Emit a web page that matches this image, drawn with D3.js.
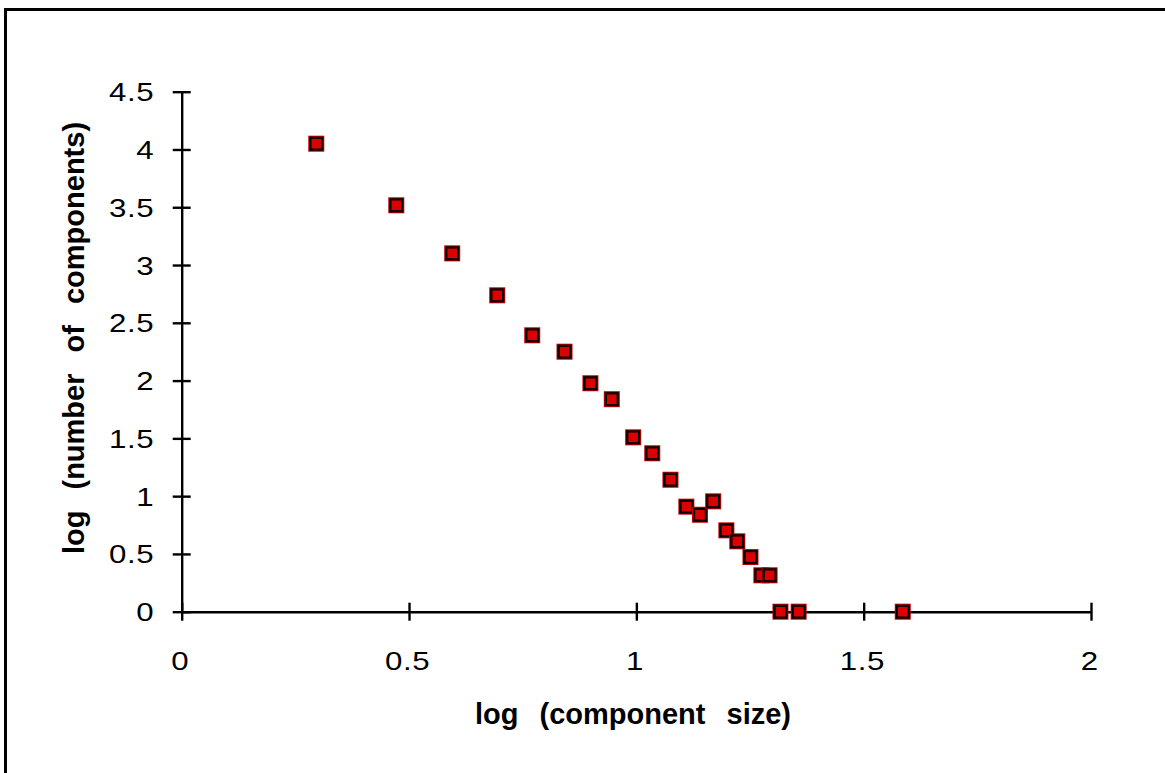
<!DOCTYPE html>
<html>
<head>
<meta charset="utf-8">
<script src="https://cdn.jsdelivr.net/npm/d3@7"></script>
<style>
  body { margin: 0; background: #fff; }
  svg { display: block; }
</style>
</head>
<body>
<svg id="chart" width="1165" height="773"></svg>
<script>
// values
var logSize = [0.296, 0.472, 0.595, 0.694, 0.771, 0.842, 0.899, 0.946, 0.993, 1.035, 1.075,
               1.110, 1.140, 1.169, 1.198, 1.222, 1.251, 1.275, 1.293, 1.317, 1.357, 1.586];
var logCount = [4.05, 3.517, 3.101, 2.738, 2.392, 2.25, 1.977, 1.839, 1.509, 1.371, 1.142,
                0.909, 0.839, 0.955, 0.704, 0.609, 0.473, 0.315, 0.315, 0, 0, 0];
var xTicks = [0, 0.5, 1, 1.5, 2];
var yTicks = [0, 0.5, 1, 1.5, 2, 2.5, 3, 3.5, 4, 4.5];

var svg = d3.select('#chart');

// outer frame (runs off the right and bottom edges)
svg.append('path')
  .attr('d', 'M5.5,780V9.5H1170')
  .style('fill', 'none')
  .style('stroke', '#000')
  .style('stroke-width', 3);

var x = d3.scaleLinear().domain([0, 2]).range([181.7, 1091]);
var y = d3.scaleLinear().domain([0, 4.5]).range([611.7, 91.7]);

var tickFont = '"Liberation Sans", Arial, sans-serif';
var stretch = 1.25; // tick digits are drawn wide in the original

// y axis
var gy = svg.append('g')
  .attr('transform', 'translate(' + x(0) + ',0)')
  .call(d3.axisLeft(y).tickValues(yTicks).tickFormat(d3.format('')).tickSize(9).tickSizeOuter(0));
gy.selectAll('.tick line').attr('x1', -9).attr('x2', 9);
gy.selectAll('.tick text')
  .attr('x', -27.5 / stretch)
  .attr('dy', '0.36em')
  .attr('transform', 'scale(' + stretch + ',1)')
  .style('font-family', tickFont)
  .style('font-size', '25px')
  .style('letter-spacing', '0.5px')
  .style('fill', '#000');

// x axis
var gx = svg.append('g')
  .attr('transform', 'translate(0,' + y(0) + ')')
  .call(d3.axisBottom(x).tickValues(xTicks).tickFormat(d3.format('')).tickSize(9).tickSizeOuter(0));
gx.selectAll('.tick line').attr('y1', -9).attr('y2', 9);
gx.selectAll('.tick text')
  .attr('y', 58)
  .attr('dy', 0)
  .attr('x', -1.5)
  .attr('transform', 'scale(' + stretch + ',1)')
  .style('font-family', tickFont)
  .style('font-size', '25px')
  .style('letter-spacing', '0.5px')
  .style('fill', '#000');

svg.selectAll('.domain, .tick line')
  .style('stroke', '#000')
  .style('stroke-width', 2.4);

// axis titles
svg.append('text')
  .attr('x', 633)
  .attr('y', 724)
  .attr('text-anchor', 'middle')
  .style('font-family', '"Liberation Sans", Arial, sans-serif')
  .style('font-weight', 'bold')
  .style('font-size', '29px')
  .style('word-spacing', '13px')
  .text('log (component size)');

svg.append('text')
  .attr('transform', 'translate(84,338) rotate(-90)')
  .attr('text-anchor', 'middle')
  .style('font-family', '"Liberation Sans", Arial, sans-serif')
  .style('font-weight', 'bold')
  .style('font-size', '29px')
  .style('word-spacing', '13px')
  .text('log (number of components)');

// markers
var pts = logSize.map(function(d, i) { return {x: d, y: logCount[i]}; });
var m = svg.append('g').selectAll('g')
  .data(pts)
  .join('g')
  .attr('transform', function(d) { return 'translate(' + x(d.x) + ',' + y(d.y) + ')'; });
m.append('rect').attr('x', -8).attr('y', -8).attr('width', 16).attr('height', 16).style('fill', '#c40000');
m.append('rect').attr('x', -7).attr('y', -7).attr('width', 14).attr('height', 14).style('fill', '#000');
m.append('rect').attr('x', -4.8).attr('y', -4.8).attr('width', 9.6).attr('height', 9.6).style('fill', '#dd0000');
</script>
</body>
</html>
